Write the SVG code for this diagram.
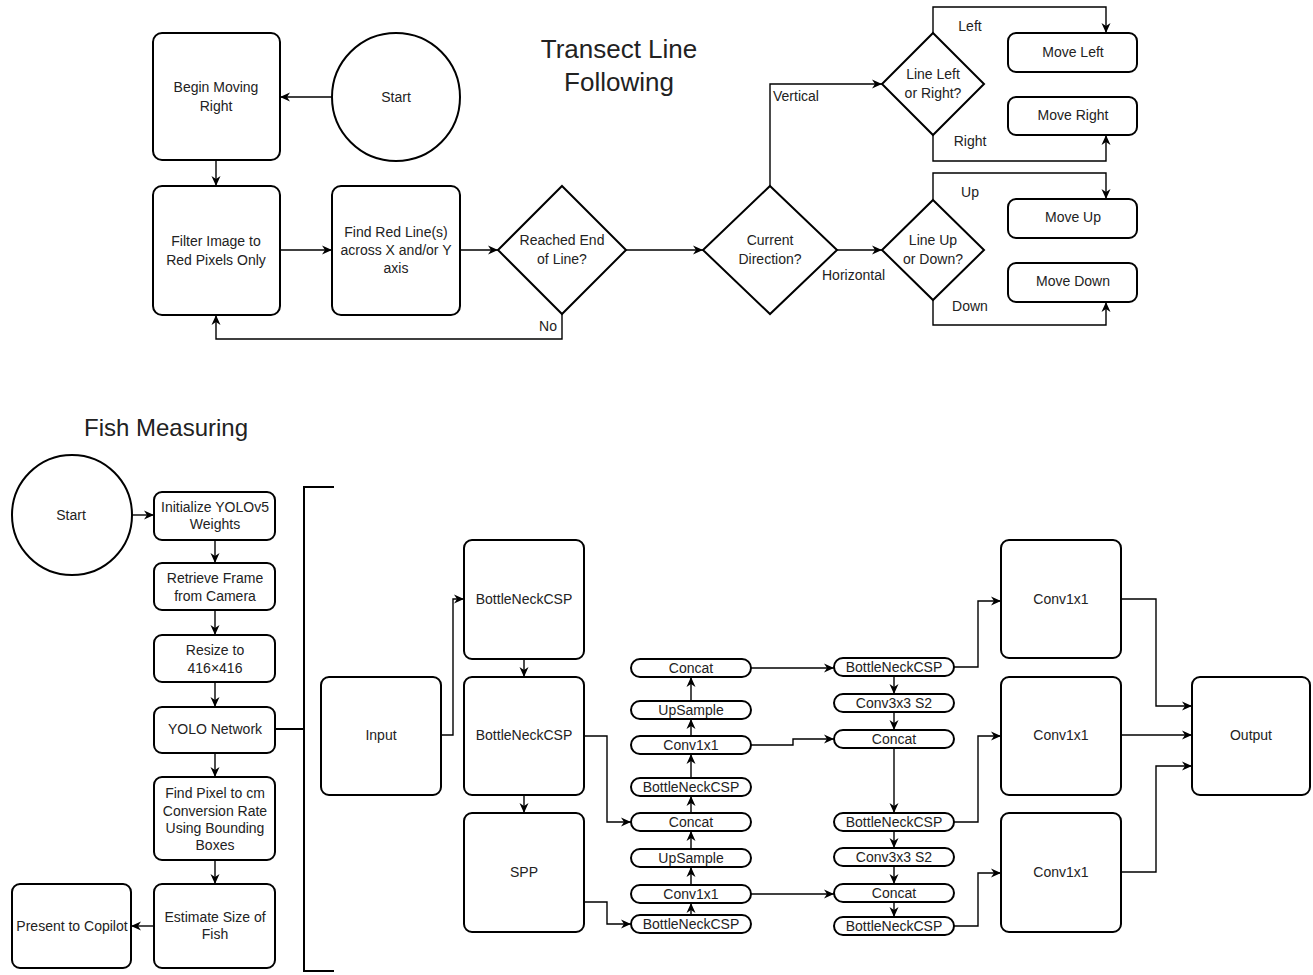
<svg xmlns="http://www.w3.org/2000/svg" width="1313" height="975" viewBox="0 0 1313 975">
<style>
.n{fill:#fff;stroke:#000;stroke-width:2}
.c{fill:none;stroke:#000;stroke-width:1.4}
.t{font-family:"Liberation Sans",Arial,sans-serif;font-size:14px;fill:#222;text-anchor:middle;dominant-baseline:central}
.l{font-family:"Liberation Sans",Arial,sans-serif;font-size:14px;fill:#222;dominant-baseline:central}
.h{font-family:"Liberation Sans",Arial,sans-serif;fill:#222;text-anchor:middle;dominant-baseline:central}
</style>
<defs>
<marker id="a" markerUnits="userSpaceOnUse" markerWidth="12" markerHeight="12" refX="10" refY="6" orient="auto">
<path d="M0,1.5 L10,6 L0,10.5 L3,6 z" fill="#000"/>
</marker>
</defs>
<rect width="1313" height="975" fill="#fff"/>

<g id="connectors">
<path class="c" d="M332,97 L280,97" marker-end="url(#a)"/>
<path class="c" d="M216,160 L216,186" marker-end="url(#a)"/>
<path class="c" d="M280,250 L332,250" marker-end="url(#a)"/>
<path class="c" d="M460,250 L498,250" marker-end="url(#a)"/>
<path class="c" d="M626,250 L703,250" marker-end="url(#a)"/>
<path class="c" d="M562,314 L562,339 L216,339 L216,315" marker-end="url(#a)"/>
<path class="c" d="M770,186 L770,84 L882,84" marker-end="url(#a)"/>
<path class="c" d="M837,250 L882,250" marker-end="url(#a)"/>
<path class="c" d="M933,33 L933,7 L1106,7 L1106,33" marker-end="url(#a)"/>
<path class="c" d="M933,135 L933,161 L1106,161 L1106,135" marker-end="url(#a)"/>
<path class="c" d="M933,200 L933,173 L1106,173 L1106,199" marker-end="url(#a)"/>
<path class="c" d="M933,300 L933,325 L1106,325 L1106,302" marker-end="url(#a)"/>

<path class="c" d="M132,515 L154,515" marker-end="url(#a)"/>
<path class="c" d="M215,540 L215,563" marker-end="url(#a)"/>
<path class="c" d="M215,610 L215,635" marker-end="url(#a)"/>
<path class="c" d="M215,682 L215,707" marker-end="url(#a)"/>
<path class="c" d="M215,753 L215,777" marker-end="url(#a)"/>
<path class="c" d="M215,860 L215,884" marker-end="url(#a)"/>
<path class="c" d="M154,926 L131,926" marker-end="url(#a)"/>
<path class="c" d="M275,729 L304,729" style="stroke-width:2"/>
<path class="c" d="M441,735 L453,735 L453,599 L464,599" marker-end="url(#a)"/>
<path class="c" d="M524,659 L524,677" marker-end="url(#a)"/>
<path class="c" d="M524,795 L524,813" marker-end="url(#a)"/>
<path class="c" d="M584,736 L607,736 L607,822 L631,822" marker-end="url(#a)"/>
<path class="c" d="M584,902 L607,902 L607,924 L631,924" marker-end="url(#a)"/>

<path class="c" d="M691,915 L691,903" marker-end="url(#a)"/>
<path class="c" d="M691,885 L691,867" marker-end="url(#a)"/>
<path class="c" d="M691,849 L691,831" marker-end="url(#a)"/>
<path class="c" d="M691,813 L691,796" marker-end="url(#a)"/>
<path class="c" d="M691,778 L691,754" marker-end="url(#a)"/>
<path class="c" d="M691,736 L691,719" marker-end="url(#a)"/>
<path class="c" d="M691,701 L691,677" marker-end="url(#a)"/>

<path class="c" d="M751,668 L834,668" marker-end="url(#a)"/>
<path class="c" d="M751,745 L793,745 L793,739 L834,739" marker-end="url(#a)"/>
<path class="c" d="M751,894 L834,894" marker-end="url(#a)"/>

<path class="c" d="M894,676 L894,694" marker-end="url(#a)"/>
<path class="c" d="M894,712 L894,730" marker-end="url(#a)"/>
<path class="c" d="M894,748 L894,813" marker-end="url(#a)"/>
<path class="c" d="M894,831 L894,848" marker-end="url(#a)"/>
<path class="c" d="M894,866 L894,884" marker-end="url(#a)"/>
<path class="c" d="M894,902 L894,917" marker-end="url(#a)"/>

<path class="c" d="M954,667 L978,667 L978,601 L1001,601" marker-end="url(#a)"/>
<path class="c" d="M954,822 L978,822 L978,736 L1001,736" marker-end="url(#a)"/>
<path class="c" d="M954,926 L978,926 L978,873 L1001,873" marker-end="url(#a)"/>
<path class="c" d="M1121,599 L1156,599 L1156,706 L1192,706" marker-end="url(#a)"/>
<path class="c" d="M1121,735 L1192,735" marker-end="url(#a)"/>
<path class="c" d="M1121,872 L1156,872 L1156,766 L1192,766" marker-end="url(#a)"/>

<text class="l" x="773" y="96">Vertical</text>
<text class="l" x="822" y="275">Horizontal</text>
<text class="t" x="970" y="26">Left</text>
<text class="t" x="970" y="141">Right</text>
<text class="t" x="970" y="192">Up</text>
<text class="t" x="970" y="306">Down</text>
<text class="t" x="548" y="326">No</text>
</g>

<g id="title-transect"><text class="h" x="619" y="49" font-size="26">Transect Line</text><text class="h" x="619" y="82" font-size="26">Following</text></g>
<g id="title-fish"><text class="h" x="166" y="427" font-size="24">Fish Measuring</text></g>

<g id="start1"><circle class="n" cx="396" cy="97" r="64"/><text class="t" x="396" y="97">Start</text></g>
<g id="begin"><rect class="n" x="153" y="33" width="127" height="127" rx="9"/><text class="t" x="216" y="87">Begin Moving</text><text class="t" x="216" y="106">Right</text></g>
<g id="filter"><rect class="n" x="153" y="186" width="127" height="129" rx="9"/><text class="t" x="216" y="241">Filter Image to</text><text class="t" x="216" y="260">Red Pixels Only</text></g>
<g id="findred"><rect class="n" x="332" y="186" width="128" height="129" rx="9"/><text class="t" x="396" y="232">Find Red Line(s)</text><text class="t" x="396" y="250">across X and/or Y</text><text class="t" x="396" y="268">axis</text></g>
<g id="reached"><polygon class="n" points="562,186 626,250 562,314 498,250"/><text class="t" x="562" y="240">Reached End</text><text class="t" x="562" y="259">of Line?</text></g>
<g id="current"><polygon class="n" points="770,186 837,250 770,314 703,250"/><text class="t" x="770" y="240">Current</text><text class="t" x="770" y="259">Direction?</text></g>
<g id="linelr"><polygon class="n" points="933,33 984,84 933,135 882,84"/><text class="t" x="933" y="74">Line Left</text><text class="t" x="933" y="93">or Right?</text></g>
<g id="moveleft"><rect class="n" x="1008" y="33" width="129" height="39" rx="8"/><text class="t" x="1073" y="52">Move Left</text></g>
<g id="moveright"><rect class="n" x="1008" y="97" width="129" height="38" rx="8"/><text class="t" x="1073" y="115">Move Right</text></g>
<g id="lineud"><polygon class="n" points="933,200 984,250 933,300 882,250"/><text class="t" x="933" y="240">Line Up</text><text class="t" x="933" y="259">or Down?</text></g>
<g id="moveup"><rect class="n" x="1008" y="199" width="129" height="39" rx="8"/><text class="t" x="1073" y="217">Move Up</text></g>
<g id="movedown"><rect class="n" x="1008" y="263" width="129" height="39" rx="8"/><text class="t" x="1073" y="281">Move Down</text></g>

<g id="start2"><circle class="n" cx="72" cy="515" r="60"/><text class="t" x="71" y="515">Start</text></g>
<g id="init"><rect class="n" x="154" y="492" width="121" height="48" rx="8"/><text class="t" x="215" y="507">Initialize YOLOv5</text><text class="t" x="215" y="524">Weights</text></g>
<g id="retrieve"><rect class="n" x="154" y="563" width="121" height="47" rx="8"/><text class="t" x="215" y="578">Retrieve Frame</text><text class="t" x="215" y="596">from Camera</text></g>
<g id="resize"><rect class="n" x="154" y="635" width="121" height="47" rx="8"/><text class="t" x="215" y="650">Resize to</text><text class="t" x="215" y="668">416×416</text></g>
<g id="yolo"><rect class="n" x="154" y="707" width="121" height="46" rx="8"/><text class="t" x="215" y="729">YOLO Network</text></g>
<g id="findpx"><rect class="n" x="154" y="777" width="121" height="83" rx="8"/><text class="t" x="215" y="793">Find Pixel to cm</text><text class="t" x="215" y="811">Conversion Rate</text><text class="t" x="215" y="828">Using Bounding</text><text class="t" x="215" y="845">Boxes</text></g>
<g id="estimate"><rect class="n" x="154" y="884" width="121" height="84" rx="8"/><text class="t" x="215" y="917">Estimate Size of</text><text class="t" x="215" y="934">Fish</text></g>
<g id="present"><rect class="n" x="12" y="884" width="119" height="84" rx="8"/><text class="t" x="72" y="926">Present to Copilot</text></g>
<g id="bracket"><path d="M334,487 L304,487 L304,971 L334,971" fill="none" stroke="#000" stroke-width="2"/></g>

<g id="input"><rect class="n" x="321" y="677" width="120" height="118" rx="8"/><text class="t" x="381" y="735">Input</text></g>
<g id="bnc1"><rect class="n" x="464" y="540" width="120" height="119" rx="8"/><text class="t" x="524" y="599">BottleNeckCSP</text></g>
<g id="bnc2"><rect class="n" x="464" y="677" width="120" height="118" rx="8"/><text class="t" x="524" y="735">BottleNeckCSP</text></g>
<g id="spp"><rect class="n" x="464" y="813" width="120" height="119" rx="8"/><text class="t" x="524" y="872">SPP</text></g>

<g id="c2-concat1"><rect class="n" x="631" y="659" width="120" height="18" rx="9"/><text class="t" x="691" y="668">Concat</text></g>
<g id="c2-up1"><rect class="n" x="631" y="701" width="120" height="18" rx="9"/><text class="t" x="691" y="710">UpSample</text></g>
<g id="c2-conv1"><rect class="n" x="631" y="736" width="120" height="18" rx="9"/><text class="t" x="691" y="745">Conv1x1</text></g>
<g id="c2-bnc1"><rect class="n" x="631" y="778" width="120" height="18" rx="9"/><text class="t" x="691" y="787">BottleNeckCSP</text></g>
<g id="c2-concat2"><rect class="n" x="631" y="813" width="120" height="18" rx="9"/><text class="t" x="691" y="822">Concat</text></g>
<g id="c2-up2"><rect class="n" x="631" y="849" width="120" height="18" rx="9"/><text class="t" x="691" y="858">UpSample</text></g>
<g id="c2-conv2"><rect class="n" x="631" y="885" width="120" height="18" rx="9"/><text class="t" x="691" y="894">Conv1x1</text></g>
<g id="c2-bnc2"><rect class="n" x="631" y="915" width="120" height="18" rx="9"/><text class="t" x="691" y="924">BottleNeckCSP</text></g>

<g id="c3-bnc1"><rect class="n" x="834" y="658" width="120" height="18" rx="9"/><text class="t" x="894" y="667">BottleNeckCSP</text></g>
<g id="c3-conv1"><rect class="n" x="834" y="694" width="120" height="18" rx="9"/><text class="t" x="894" y="703">Conv3x3 S2</text></g>
<g id="c3-concat1"><rect class="n" x="834" y="730" width="120" height="18" rx="9"/><text class="t" x="894" y="739">Concat</text></g>
<g id="c3-bnc2"><rect class="n" x="834" y="813" width="120" height="18" rx="9"/><text class="t" x="894" y="822">BottleNeckCSP</text></g>
<g id="c3-conv2"><rect class="n" x="834" y="848" width="120" height="18" rx="9"/><text class="t" x="894" y="857">Conv3x3 S2</text></g>
<g id="c3-concat2"><rect class="n" x="834" y="884" width="120" height="18" rx="9"/><text class="t" x="894" y="893">Concat</text></g>
<g id="c3-bnc3"><rect class="n" x="834" y="917" width="120" height="18" rx="9"/><text class="t" x="894" y="926">BottleNeckCSP</text></g>

<g id="head1"><rect class="n" x="1001" y="540" width="120" height="118" rx="8"/><text class="t" x="1061" y="599">Conv1x1</text></g>
<g id="head2"><rect class="n" x="1001" y="677" width="120" height="118" rx="8"/><text class="t" x="1061" y="735">Conv1x1</text></g>
<g id="head3"><rect class="n" x="1001" y="813" width="120" height="119" rx="8"/><text class="t" x="1061" y="872">Conv1x1</text></g>
<g id="output"><rect class="n" x="1192" y="677" width="118" height="118" rx="8"/><text class="t" x="1251" y="735">Output</text></g>
</svg>
